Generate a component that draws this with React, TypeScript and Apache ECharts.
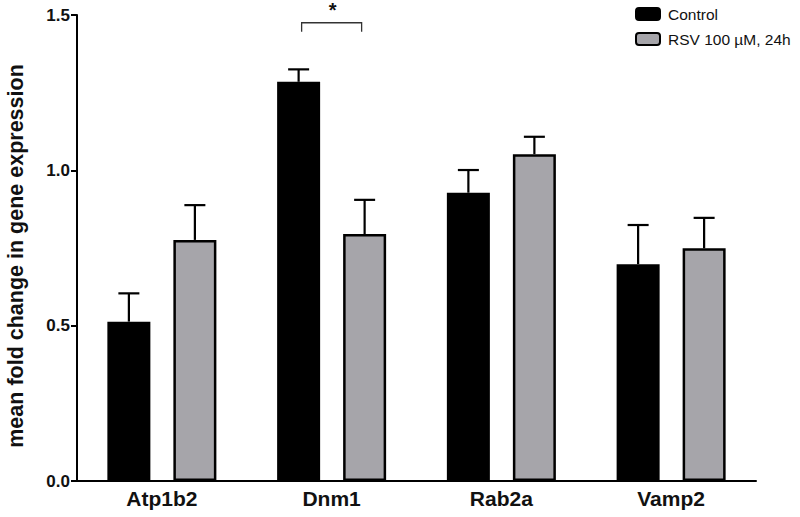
import React, { useEffect, useRef } from "react";
import * as echarts from "echarts";

const categories = ["Atp1b2", "Dnm1", "Rab2a", "Vamp2"];
const seriesNames = ["Control", "RSV 100 µM, 24h"];
const controlMean = [0.513, 1.285, 0.928, 0.698];
const controlErr = [0.091, 0.04, 0.073, 0.126];
const rsvMean = [0.776, 0.795, 1.052, 0.749];
const rsvErr = [0.112, 0.11, 0.056, 0.098];
const yTicks = [0, 0.5, 1.0, 1.5];
// significance: category index, bracket level, label
const sigCategory = [1];
const sigLevel = [1.475];
const sigLabel = ["*"];

const FONT = "'Liberation Sans', Arial, Helvetica, sans-serif";
const BAR_W = 43;
const BAR_GAP = 23;
const OFFSET = (BAR_W + BAR_GAP) / 2;

function errorSeries(mean: number[], err: number[], sign: number) {
  return {
    type: "custom",
    silent: true,
    clip: false,
    z: 1,
    data: mean.map((m, i) => [i, m, err[i]]),
    renderItem: (params: any, api: any) => {
      const cat = api.value(0);
      const m = api.value(1);
      const e = api.value(2);
      const p0 = api.coord([cat, m]);
      const p1 = api.coord([cat, m + e]);
      const x = p0[0] + sign * OFFSET;
      const cap = 10.5;
      return {
        type: "group",
        children: [
          {
            type: "line",
            shape: { x1: x, y1: p0[1], x2: x, y2: p1[1] },
            style: { stroke: "#000", lineWidth: 2.2 },
          },
          {
            type: "line",
            shape: { x1: x - cap, y1: p1[1], x2: x + cap, y2: p1[1] },
            style: { stroke: "#000", lineWidth: 2.2 },
          },
        ],
      };
    },
  };
}

export default function App() {
  const ref = useRef<HTMLDivElement>(null);
  useEffect(() => {
    if (!ref.current) return;
    const chart = echarts.init(ref.current, undefined, { renderer: "svg" });
    chart.setOption({
      animation: false,
      backgroundColor: "#fff",
      textStyle: { fontFamily: FONT },
      grid: {
        left: 77,
        right: 44,
        top: 15,
        bottom: 36,
        containLabel: false,
        outerBoundsMode: "none",
      },
      legend: {
        orient: "vertical",
        left: 630,
        top: 1,
        itemWidth: 24,
        itemHeight: 12,
        itemGap: 9,
        data: seriesNames,
        textStyle: { fontFamily: FONT, fontSize: 15.5, color: "#111", padding: [0, 0, 0, 3] },
        selectedMode: false,
      },
      xAxis: {
        type: "category",
        data: categories,
        axisLine: { lineStyle: { color: "#000", width: 2 } },
        axisTick: { alignWithLabel: true, length: 6, lineStyle: { color: "#000", width: 2 } },
        axisLabel: {
          color: "#111",
          fontFamily: FONT,
          fontSize: 21,
          fontWeight: "bold",
          margin: 7,
        },
      },
      yAxis: {
        type: "value",
        min: 0,
        max: 1.5,
        interval: 0.5,
        name: "mean fold change in gene expression",
        nameLocation: "middle",
        nameGap: 50,
        nameTextStyle: {
          fontFamily: FONT,
          fontSize: 21.5,
          fontWeight: "bold",
          color: "#111",
          padding: [0, 16, 0, 0],
        },
        axisLine: { show: true, lineStyle: { color: "#000", width: 2 } },
        axisTick: { show: true, length: 6, lineStyle: { color: "#000", width: 2 } },
        splitLine: { show: false },
        axisLabel: {
          color: "#111",
          fontFamily: FONT,
          fontSize: 17,
          fontWeight: "bold",
          margin: 7,
          formatter: (v: number) => (yTicks.includes(v) ? v.toFixed(1) : ""),
        },
      },
      series: [
        {
          name: seriesNames[0],
          type: "bar",
          data: controlMean,
          barWidth: BAR_W,
          barGap: ((BAR_GAP / BAR_W) * 100).toFixed(1) + "%",
          itemStyle: { color: "#000", borderColor: "#000", borderWidth: 2 },
          z: 2,
        },
        {
          name: seriesNames[1],
          type: "bar",
          data: rsvMean,
          barWidth: BAR_W,
          itemStyle: { color: "#a6a5aa", borderColor: "#000", borderWidth: 2.5 },
          z: 2,
        },
        errorSeries(controlMean, controlErr, -1),
        errorSeries(rsvMean, rsvErr, 1),
        {
          type: "custom",
          silent: true,
          clip: false,
          data: sigCategory.map((c, i) => [c, sigLevel[i]]),
          renderItem: (params: any, api: any) => {
            const cat = api.value(0);
            const lvl = api.value(1);
            const p = api.coord([cat, lvl]);
            const xl = p[0] - 30;
            const xr = p[0] + 30;
            const drop = 9;
            return {
              type: "group",
              children: [
                {
                  type: "polyline",
                  shape: {
                    points: [
                      [xl, p[1] + drop],
                      [xl, p[1]],
                      [xr, p[1]],
                      [xr, p[1] + drop],
                    ],
                  },
                  style: { stroke: "#333", lineWidth: 1.3, fill: "none" },
                },
                {
                  type: "text",
                  x: p[0] + 1,
                  y: 0,
                  style: {
                    text: sigLabel[params.dataIndex],
                    fontFamily: FONT,
                    fontSize: 20,
                    fontWeight: "bold",
                    fill: "#111",
                    align: "center",
                    verticalAlign: "top",
                  },
                },
              ],
            };
          },
        },
      ],
    });
    return () => chart.dispose();
  }, []);
  return <div ref={ref} style={{ width: 800, height: 517, position: "absolute", left: 0, top: 0 }} />;
}
